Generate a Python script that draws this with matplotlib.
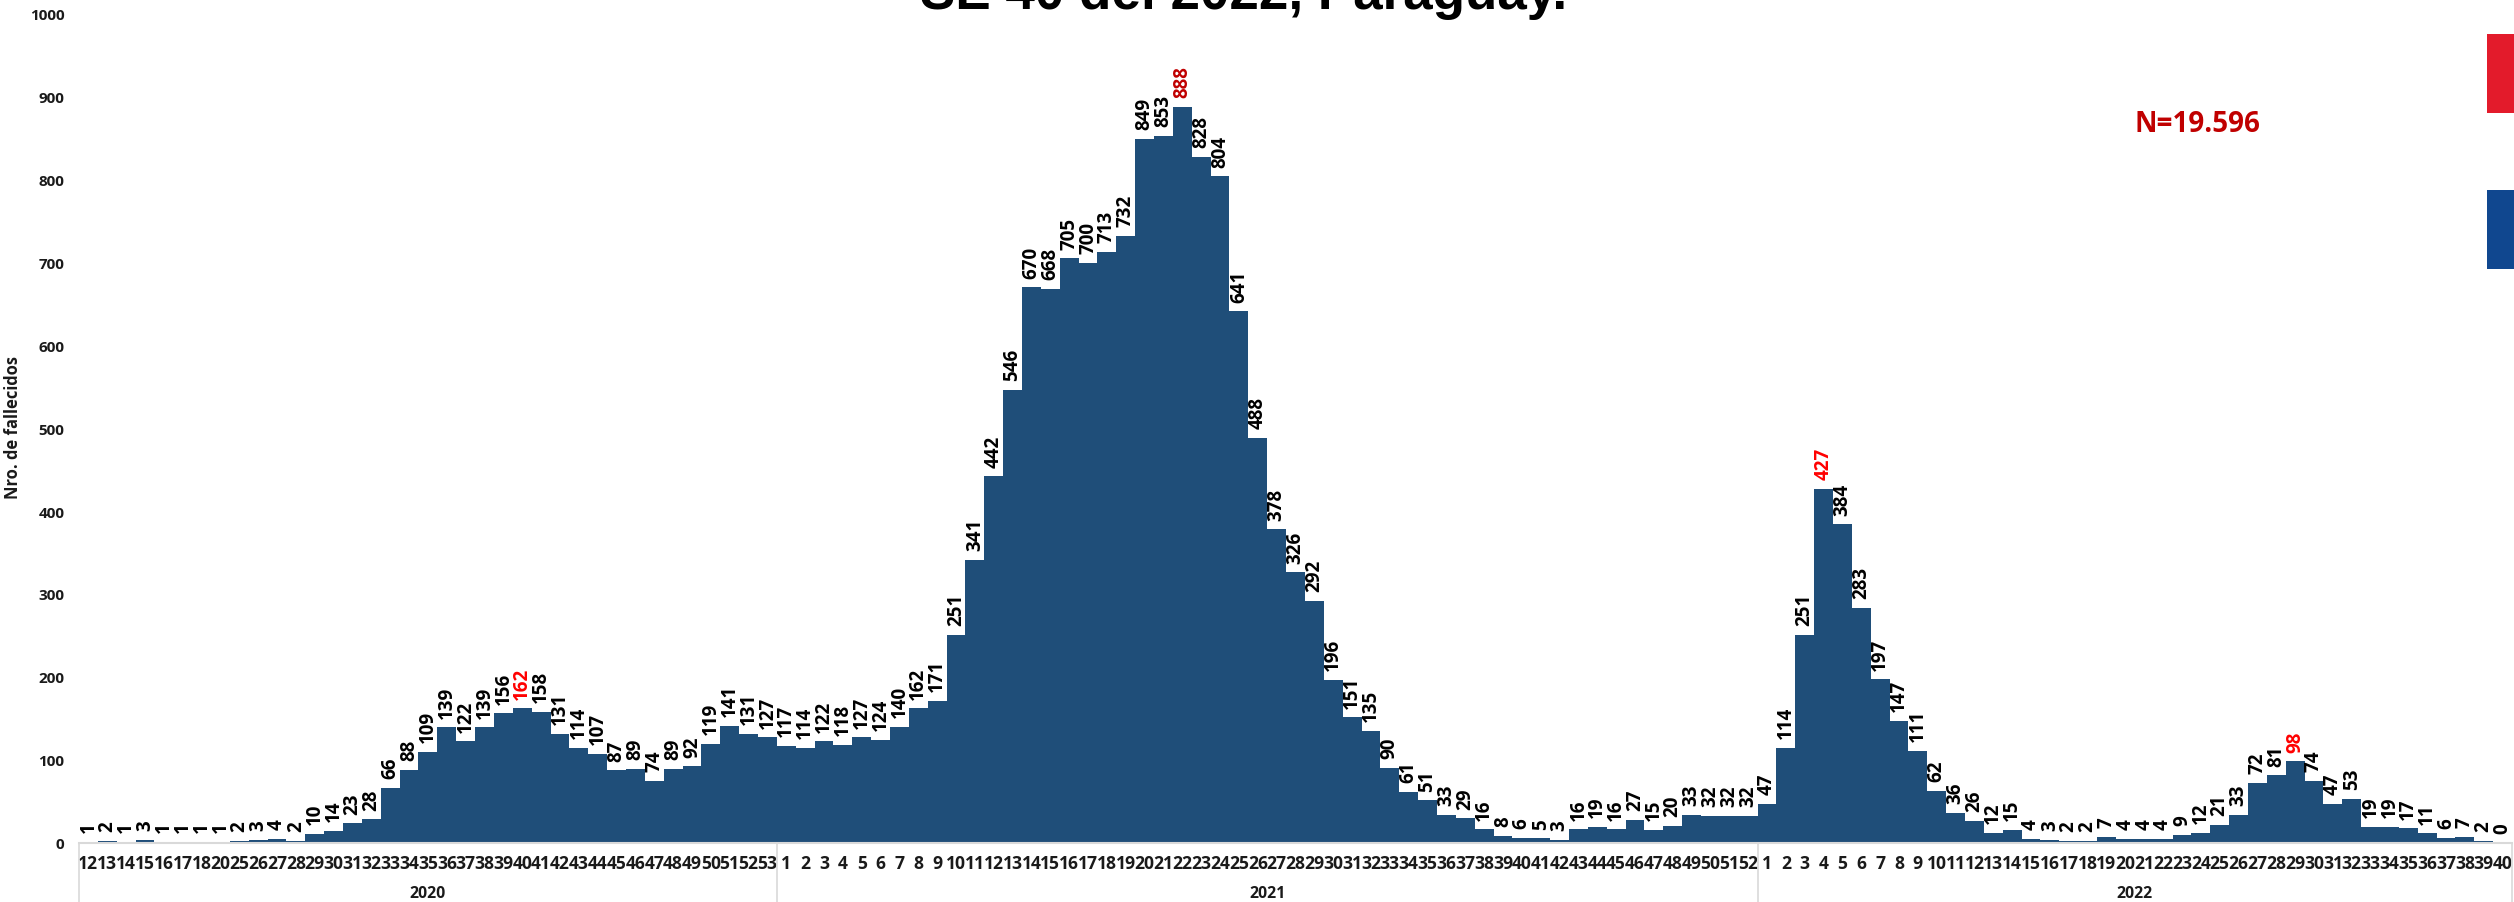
#!/usr/bin/env python

import matplotlib
matplotlib.use('Agg')
import matplotlib.pyplot as plt
from matplotlib.patches import Rectangle

# Epidemiological weeks and deaths per year
weeks_2020 = [12, 13, 14, 15, 16, 17, 18, 20, 25, 26, 27, 28, 29, 30, 31, 32, 33, 34, 35, 36,
              37, 38, 39, 40, 41, 42, 43, 44, 45, 46, 47, 48, 49, 50, 51, 52, 53]
deaths_2020 = [1, 2, 1, 3, 1, 1, 1, 1, 2, 3, 4, 2, 10, 14, 23, 28, 66, 88, 109, 139,
               122, 139, 156, 162, 158, 131, 114, 107, 87, 89, 74, 89, 92, 119, 141, 131, 127]

weeks_2021 = list(range(1, 53))
deaths_2021 = [117, 114, 122, 118, 127, 124, 140, 162, 171, 251, 341, 442, 546, 670, 668, 705,
               700, 713, 732, 849, 853, 888, 828, 804, 641, 488, 378, 326, 292, 196, 151, 135,
               90, 61, 51, 33, 29, 16, 8, 6, 5, 3, 16, 19, 16, 27, 15, 20, 33, 32, 32, 32]

weeks_2022 = list(range(1, 41))
deaths_2022 = [47, 114, 251, 427, 384, 283, 197, 147, 111, 62, 36, 26, 12, 15, 4, 3, 2, 2, 7, 4,
               4, 4, 9, 12, 21, 33, 72, 81, 98, 74, 47, 53, 19, 19, 17, 11, 6, 7, 2, 0]

years = ['2020', '2021', '2022']
yticks = list(range(0, 1001, 100))
# peak of each wave: (year, week) -> label colour
highlights = {('2020', 40): '#FF0000', ('2021', 22): '#C00000',
              ('2022', 4): '#FF0000', ('2022', 29): '#FF0000'}

W, H = 2514, 903
BAR = '#1F4E79'
GRID = '#D9D9D9'
FONT = ['Open Sans', 'DejaVu Sans']


def main():
    fig = plt.figure(figsize=(W / 100, H / 100), dpi=100, facecolor='white')
    ax = fig.add_axes([79 / W, 1 - 843.5 / H, (2512 - 79) / W, (843.5 - 15) / H])

    week_groups = [weeks_2020, weeks_2021, weeks_2022]
    death_groups = [deaths_2020, deaths_2021, deaths_2022]

    labels = []
    values = []
    colors = []
    for year, wks, vals in zip(years, week_groups, death_groups):
        for wk, val in zip(wks, vals):
            labels.append(str(wk))
            values.append(val)
            colors.append(highlights.get((year, wk), 'black'))

    xs = list(range(len(values)))
    ax.bar(xs, values, width=1.0, color=BAR, linewidth=0)
    ax.set_xlim(-0.5, len(values) - 0.5)
    ax.set_ylim(0, 1000)

    for x, val, col in zip(xs, values, colors):
        ax.annotate(str(val), xy=(x, val), xytext=(0, 7), textcoords='offset points',
                    rotation=90, ha='center', va='bottom', fontsize=13.5,
                    fontweight='bold', color=col, family=FONT)

    ax.set_yticks(yticks)
    ax.set_yticklabels([str(t) for t in yticks], fontsize=11, fontweight='bold',
                       family=FONT, color='#1a1a1a')
    ax.set_xticks(xs)
    ax.set_xticklabels(labels, fontsize=12.6, fontweight='bold', family=FONT, color='#1a1a1a')
    ax.tick_params(axis='y', length=0, pad=10.5)
    ax.tick_params(axis='x', length=0, pad=8.5)

    for side in ['top', 'right', 'left']:
        ax.spines[side].set_visible(False)
    ax.spines['bottom'].set_color(GRID)
    ax.spines['bottom'].set_linewidth(1.5)

    # Year brackets below the week labels
    trans = ax.get_xaxis_transform()
    start = -0.5
    ax.plot([start, start], [0, -0.08], color=GRID, lw=1.2, transform=trans, clip_on=False)
    for year, vals in zip(years, death_groups):
        end = start + len(vals)
        ax.plot([end, end], [0, -0.08], color=GRID, lw=1.2, transform=trans, clip_on=False)
        ax.text((start + end) / 2, -0.0605, year, transform=trans, ha='center', va='center',
                fontsize=11.4, fontweight='bold', family=FONT, color='#1a1a1a')
        start = end

    fig.text(13 / W, 1 - 428 / H, 'Nro. de fallecidos', rotation=90, ha='center', va='center',
             fontsize=11.9, fontweight='bold', family=FONT, color='#1a1a1a')

    # Title is cut off by the top of the picture in the original
    fig.text(1244 / W, 1 - 9 / H, 'SE 40 del 2022, Paraguay.', ha='center', va='baseline',
             fontsize=38.2, fontweight='bold', family='Liberation Sans', color='black')

    fig.text(2197 / W, 1 - 125 / H, 'N=19.596', ha='center', va='center',
             fontsize=20, fontweight='bold', family=FONT, color='#C00000')

    # Flag pieces at the right edge
    fig.add_artist(Rectangle((2487 / W, 1 - 114 / H), 27 / W, 79 / H, transform=fig.transFigure,
                             facecolor='#E31B2B', edgecolor='none'))
    fig.add_artist(Rectangle((2487 / W, 1 - 270 / H), 27 / W, 79 / H, transform=fig.transFigure,
                             facecolor='#10478F', edgecolor='none'))

    fig.savefig('out.png', dpi=100, facecolor='white')
    plt.close(fig)


if __name__ == '__main__':
    main()
